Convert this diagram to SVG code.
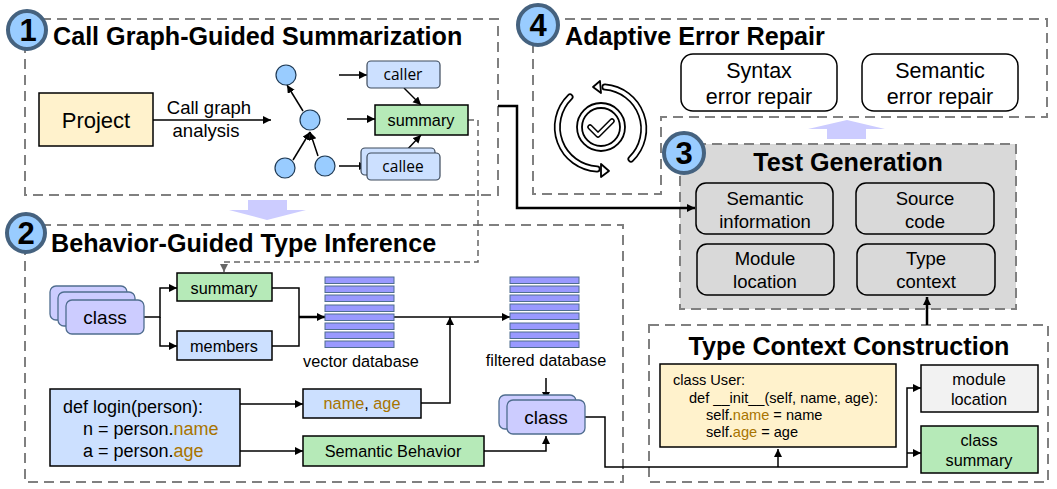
<svg xmlns="http://www.w3.org/2000/svg" width="1057" height="489" viewBox="0 0 1057 489">
<style>
text{font-family:"Liberation Sans",Arial,sans-serif;text-anchor:middle;fill:#000}
.title{font-size:25.15px;font-weight:700;text-anchor:start}
.panel{fill:none;stroke:#808080;stroke-width:2;stroke-dasharray:10 6}
.num{font-size:31px;font-weight:700}
.badge{fill:#99ccff;stroke:#45627f;stroke-width:4}
.blue{fill:#cce0ff;stroke:#000;stroke-width:1.5}
.bluer{fill:#cce0ff;stroke:#3c4a5c;stroke-width:1.2}
.green{fill:#b6eab8;stroke:#000;stroke-width:1.5}
.yellow{fill:#fff2cc;stroke:#000;stroke-width:1.5}
.purple{fill:#ccccff;stroke:#4f6d8f;stroke-width:1.3}
.bar{fill:#9999ff;stroke:#4f6d8f;stroke-width:1}
.white{fill:#fff;stroke:#000;stroke-width:1.5}
.greybox{fill:#d9d9d9;stroke:#000;stroke-width:1.5}
.dot{fill:#99ccff;stroke:#1f3a55;stroke-width:1.2}
.con{fill:none;stroke:#000;stroke-width:1.5}
.thick{fill:none;stroke:#000;stroke-width:2.5}
.big{fill:#ccccff}
.t16{font-size:16.3px}.t17{font-size:18px}.t18{font-size:18.5px}.t21{font-size:21.5px}.cls{font-size:19px}
.code{font-size:14.6px}
.o{fill:#a87400}
</style>
<defs>
<marker id="a" markerUnits="userSpaceOnUse" markerWidth="10" markerHeight="10" refX="8" refY="4" orient="auto"><path d="M0 0L8 4L0 8Z" fill="#000"/></marker>
<marker id="g" markerUnits="userSpaceOnUse" markerWidth="10" markerHeight="10" refX="8" refY="4" orient="auto"><path d="M0 0L8 4L0 8Z" fill="#666"/></marker>
</defs>

<g id="panel-1"><rect class="panel" x="25" y="19" width="473" height="176"/><text class="title" x="53" y="45">Call Graph-Guided Summarization</text></g>
<g id="panel-2"><path class="panel" d="M25 225H623V482H25Z"/><text class="title" x="51" y="252">Behavior-Guided Type Inference</text></g>
<g id="panel-4"><path class="panel" d="M533 19H1047V117H661V194H533Z"/><text class="title" x="565" y="45">Adaptive Error Repair</text></g>
<g id="panel-3"><rect x="680" y="144" width="336" height="165" fill="#d9d9d9" stroke="#808080" stroke-width="2" stroke-dasharray="10 6"/><text class="title" x="848" y="171" style="text-anchor:middle">Test Generation</text></g>
<g id="panel-5"><rect class="panel" x="649" y="325" width="399" height="157"/><text class="title" x="849" y="355" style="text-anchor:middle">Type Context Construction</text></g>

<path class="big" id="arrow-down" d="M248 200H287V210H306L267 220L229 210H248Z"/>
<path class="big" id="arrow-up" d="M827 139H866V129H885L847 120L808 129H827Z"/>

<g id="connectors">
<path d="M468 120H478V262H224V272" fill="none" stroke="#666" stroke-width="1.5" stroke-dasharray="6 4" marker-end="url(#g)"/>
<path class="con" d="M153 120H271" marker-end="url(#a)"/>
<path class="con" d="M303 111L287 85" marker-end="url(#a)"/>
<path class="con" d="M293 160L310 132" marker-end="url(#a)"/>
<path class="con" d="M318 156L310 132" marker-end="url(#a)"/>
<path class="con" d="M339 75H367" marker-end="url(#a)"/>
<path class="con" d="M347 119H375" marker-end="url(#a)"/>
<path class="con" d="M339 166H367" marker-end="url(#a)"/>
<path class="con" d="M404 88L421 105" marker-end="url(#a)"/>
<path class="con" d="M404 153L421 135" marker-end="url(#a)"/>
<path class="thick" d="M498 106H517V208H695" marker-end="url(#a)"/>
<path class="thick" d="M927 325V297" marker-end="url(#a)"/>
<path class="con" d="M143 317H160V288H177" marker-end="url(#a)"/>
<path class="con" d="M160 317V346H177" marker-end="url(#a)"/>
<path class="con" d="M272 288H299V317M272 346H299V317"/>
<path class="thick" d="M299 317H325" marker-end="url(#a)"/>
<path class="con" d="M394 317H510" marker-end="url(#a)"/>
<path class="con" d="M421 403H450V317" marker-end="url(#a)"/>
<path class="con" d="M240 404H303" marker-end="url(#a)"/>
<path class="con" d="M240 451H303" marker-end="url(#a)"/>
<path class="con" d="M484 451H546V436" marker-end="url(#a)"/>
<path class="con" d="M546 378V400" marker-end="url(#a)"/>
<path class="con" d="M585 417H605V467H907V388H921" marker-end="url(#a)"/>
<path class="con" d="M907 453H921" marker-end="url(#a)"/>
<path class="con" d="M778 467V449" marker-end="url(#a)"/>
</g>

<g id="project"><rect class="yellow" x="39" y="93" width="114" height="53"/><text x="96" y="128" style="font-size:22px">Project</text></g>
<g id="call-graph-label"><text class="t18" x="209" y="114">Call graph</text><text class="t18" x="206" y="137">analysis</text></g>
<g id="graph">
<circle class="dot" cx="286" cy="75" r="10"/><circle class="dot" cx="310" cy="120" r="10"/><circle class="dot" cx="285" cy="168" r="10"/><circle class="dot" cx="325" cy="166" r="10"/>
</g>
<g id="caller"><rect class="bluer" x="367" y="61" width="73" height="27" rx="4"/><text x="403" y="80" style="font-family:'Open Sans',sans-serif;font-size:15.5px">caller</text></g>
<g id="summary-1"><rect class="green" x="375" y="105" width="93" height="30"/><text class="t16" x="421" y="126">summary</text></g>
<g id="callee"><rect class="bluer" x="361" y="148" width="74" height="27" rx="4"/><rect class="bluer" x="367" y="153" width="73" height="27" rx="4"/><text x="403" y="172" style="font-family:'Open Sans',sans-serif;font-size:15.5px">callee</text></g>

<g id="badge-1"><circle class="badge" cx="27" cy="30" r="19"/><text class="num" x="28" y="41">1</text></g>
<g id="badge-2"><circle class="badge" cx="26" cy="233" r="19"/><text class="num" x="26" y="244">2</text></g>
<g id="badge-4"><circle class="badge" cx="538" cy="25" r="20"/><text class="num" x="538" y="36">4</text></g>
<g id="badge-3"><circle class="badge" cx="684" cy="153" r="20"/><text class="num" x="684" y="164">3</text></g>

<g id="syntax-repair"><rect class="white" x="681" y="54" width="156" height="57" rx="12"/><text class="t21" x="759" y="78">Syntax</text><text class="t21" x="759" y="104">error repair</text></g>
<g id="semantic-repair"><rect class="white" x="862" y="54" width="156" height="57" rx="12"/><text class="t21" x="940" y="78">Semantic</text><text class="t21" x="940" y="104">error repair</text></g>

<g id="repair-icon" fill="none" stroke-linejoin="round">
<g stroke="#000" stroke-width="7" stroke-linecap="round"><path d="M631 159A42 42 0 0 0 605 87"/><path d="M570 97A42 42 0 0 0 597 169"/></g>
<g stroke="#fff" stroke-width="3.6" stroke-linecap="round"><path d="M631 159A42 42 0 0 0 605 87"/><path d="M570 97A42 42 0 0 0 597 169"/></g>
<path d="M600 81L593 87L601 93Z" fill="#fff" stroke="#000" stroke-width="1.8"/>
<path d="M601 164L609 171L601 177Z" fill="#fff" stroke="#000" stroke-width="1.8"/>
<circle cx="601" cy="127" r="24" stroke="#000" stroke-width="1.8"/><circle cx="601" cy="127" r="19" stroke="#000" stroke-width="1.8"/>
<path d="M590 127L598 135L612 121" stroke="#000" stroke-width="5.5" stroke-linecap="round"/>
<path d="M590 127L598 135L612 121" stroke="#fff" stroke-width="2.5" stroke-linecap="round"/>
</g>

<g id="semantic-information"><rect class="greybox" x="696" y="183" width="137" height="51" rx="10"/><text class="t18" x="765" y="205">Semantic</text><text class="t18" x="765" y="228">information</text></g>
<g id="source-code"><rect class="greybox" x="856" y="183" width="138" height="51" rx="10"/><text class="t18" x="925" y="205">Source</text><text class="t18" x="925" y="228">code</text></g>
<g id="module-location"><rect class="greybox" x="697" y="244" width="137" height="51" rx="10"/><text class="t18" x="765" y="265">Module</text><text class="t18" x="765" y="288">location</text></g>
<g id="type-context"><rect class="greybox" x="857" y="244" width="138" height="51" rx="10"/><text class="t18" x="926" y="265">Type</text><text class="t18" x="926" y="288">context</text></g>

<g id="class-stack"><rect class="purple" x="50" y="286" width="77" height="34" rx="6"/><rect class="purple" x="58" y="292" width="77" height="34" rx="6"/><rect class="purple" x="66" y="300" width="78" height="34" rx="6"/><text class="cls" x="105" y="324">class</text></g>
<g id="summary-2"><rect class="green" x="177" y="273" width="95" height="28"/><text class="t16" x="224" y="294">summary</text></g>
<g id="members"><rect class="blue" x="177" y="331" width="95" height="29"/><text class="t16" x="224" y="352">members</text></g>
<g id="vector-database">
<rect class="bar" x="325" y="277" width="69" height="6.5"/><rect class="bar" x="325" y="286" width="69" height="6.5"/><rect class="bar" x="325" y="295" width="69" height="6.5"/><rect class="bar" x="325" y="305" width="69" height="6.5"/><rect class="bar" x="325" y="314" width="69" height="6.5"/><rect class="bar" x="325" y="323" width="69" height="6.5"/><rect class="bar" x="325" y="332" width="69" height="6.5"/><rect class="bar" x="325" y="341" width="69" height="6.5"/>
<text class="t16" x="361" y="367">vector database</text></g>
<g id="filtered-database">
<rect class="bar" x="510" y="277" width="69" height="6.5"/><rect class="bar" x="510" y="286" width="69" height="6.5"/><rect class="bar" x="510" y="295" width="69" height="6.5"/><rect class="bar" x="510" y="304" width="69" height="6.5"/><rect class="bar" x="510" y="313" width="69" height="6.5"/><rect class="bar" x="510" y="323" width="69" height="6.5"/><rect class="bar" x="510" y="332" width="69" height="6.5"/><rect class="bar" x="510" y="341" width="69" height="6.5"/>
<text class="t16" x="546" y="366">filtered database</text></g>
<g id="def-login"><rect class="blue" x="50" y="389" width="190" height="77"/>
<text class="t17" x="63" y="413" style="text-anchor:start">def login(person):</text>
<text class="t17" x="83" y="435" style="text-anchor:start">n = person.<tspan class="o">name</tspan></text>
<text class="t17" x="83" y="457" style="text-anchor:start">a = person.<tspan class="o">age</tspan></text></g>
<g id="name-age"><rect class="blue" x="303" y="389" width="118" height="29"/><text class="t16" x="362" y="409"><tspan class="o">name</tspan>, <tspan class="o">age</tspan></text></g>
<g id="semantic-behavior"><rect class="green" x="303" y="436" width="181" height="30"/><text class="t16" x="393" y="457">Semantic Behavior</text></g>
<g id="class-filtered"><rect class="purple" x="499" y="395" width="77" height="34" rx="6"/><rect class="purple" x="507" y="400" width="78" height="34" rx="6"/><text class="cls" x="546" y="424">class</text></g>

<g id="class-user"><rect class="yellow" x="660" y="364" width="236" height="83"/>
<text class="code" x="673" y="385" style="text-anchor:start">class User:</text>
<text class="code" x="689" y="403" style="text-anchor:start">def __init__(self, name, age):</text>
<text class="code" x="706" y="420" style="text-anchor:start">self.<tspan class="o">name</tspan> = name</text>
<text class="code" x="706" y="437" style="text-anchor:start">self.<tspan class="o">age</tspan> = age</text></g>
<g id="module-box"><rect x="921" y="365" width="117" height="47" fill="#f2f2f2" stroke="#000" stroke-width="1.5"/><text class="t16" x="979" y="385">module</text><text class="t16" x="979" y="405">location</text></g>
<g id="class-summary"><rect class="green" x="921" y="426" width="117" height="47"/><text class="t16" x="979" y="446">class</text><text class="t16" x="979" y="466">summary</text></g>
</svg>
